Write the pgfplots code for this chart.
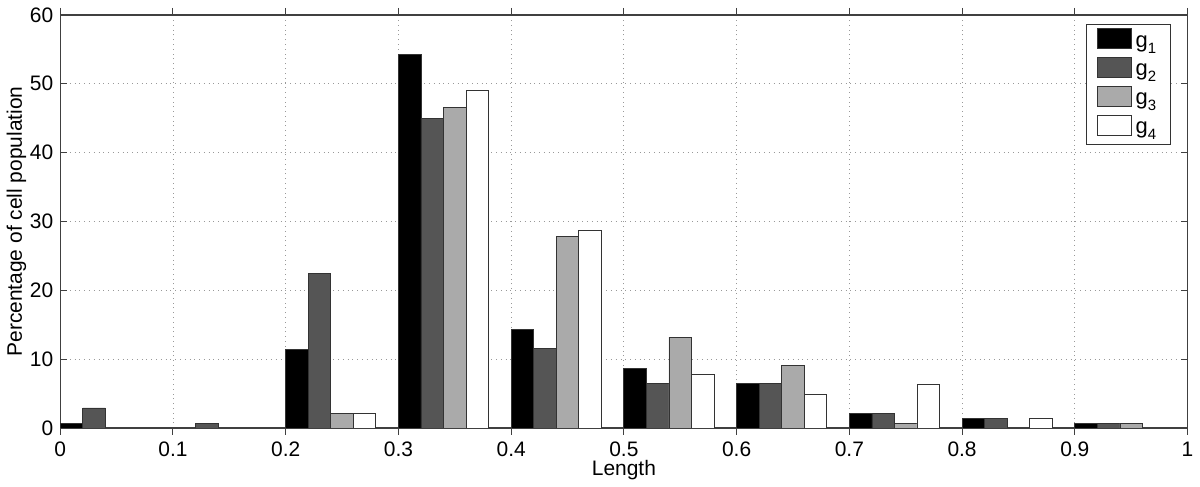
\documentclass[border=0pt]{standalone}
\usepackage{fontspec}
\setmainfont{Liberation Sans}
\usepackage{pgfplots}
\pgfplotsset{compat=1.18}
\definecolor{gA}{HTML}{000000}
\definecolor{gB}{HTML}{555555}
\definecolor{gC}{HTML}{AAAAAA}
\definecolor{gD}{HTML}{FFFFFF}
\newcommand{\gsub}[1]{g\raisebox{-3pt}{\fontsize{7.5pt}{8pt}\selectfont #1}}
\begin{document}
\begin{tikzpicture}[font=\fontsize{10.5pt}{12pt}\selectfont]
\begin{axis}[
  scale only axis, width=565pt, height=207pt,
  xmin=0, xmax=1, ymin=0, ymax=60,
  xtick={0,0.1,...,1.0}, ytick={0,10,...,60},
  xticklabels={0,0.1,0.2,0.3,0.4,0.5,0.6,0.7,0.8,0.9,1},
  /pgf/number format/assume math mode=true,
  tick align=inside, major tick length=3.5pt,
  tick style={black!75, line width=0.5pt},
  axis line style={black!75, line width=0.6pt},
  grid=major,
  grid style={black!40, dotted, line width=0.4pt},
  xlabel={Length}, ylabel={Percentage of cell population},
  xlabel style={yshift=5pt}, ylabel style={yshift=-5pt},
  ybar, bar width=0.02,
  every axis plot/.append style={draw=black!80, line width=0.4pt},
  legend style={at={(1,1)}, anchor=north east, xshift=-8.5pt, yshift=-4.5pt,
    draw=black!80, line width=0.5pt, inner xsep=5pt, inner ysep=2pt,
    row sep=1.5pt, font=\fontsize{11pt}{12pt}\selectfont},
  legend cell align=left,
  legend image code/.code={\draw[#1, bar shift=0pt] (0pt,-3pt) rectangle (17pt,7pt);},
]
\addplot[fill=gA, bar shift=0.01] coordinates {
  (0,0.7) (0.2,11.4) (0.3,54.3) (0.4,14.3) (0.5,8.6) (0.6,6.4) (0.7,2.1) (0.8,1.4) (0.9,0.7)};
\addlegendentry{\gsub{1}}
\addplot[fill=gB, bar shift=0.03] coordinates {
  (0,2.9) (0.1,0.7) (0.2,22.5) (0.3,45.0) (0.4,11.6) (0.5,6.5) (0.6,6.5) (0.7,2.1) (0.8,1.4) (0.9,0.7)};
\addlegendentry{\gsub{2}}
\addplot[fill=gC, bar shift=0.05] coordinates {
  (0.2,2.1) (0.3,46.5) (0.4,27.8) (0.5,13.2) (0.6,9.1) (0.7,0.7) (0.9,0.7)};
\addlegendentry{\gsub{3}}
\addplot[fill=gD, bar shift=0.07] coordinates {
  (0.2,2.1) (0.3,49.0) (0.4,28.7) (0.5,7.8) (0.6,4.9) (0.7,6.3) (0.8,1.4)};
\addlegendentry{\gsub{4}}
\end{axis}
\path (current axis.south west) ++(-29pt,-25.5pt) coordinate (bbA);
\path (current axis.north east) ++(6pt,7.5pt) coordinate (bbB);
\path (bbA) rectangle (bbB);
\end{tikzpicture}
\end{document}
